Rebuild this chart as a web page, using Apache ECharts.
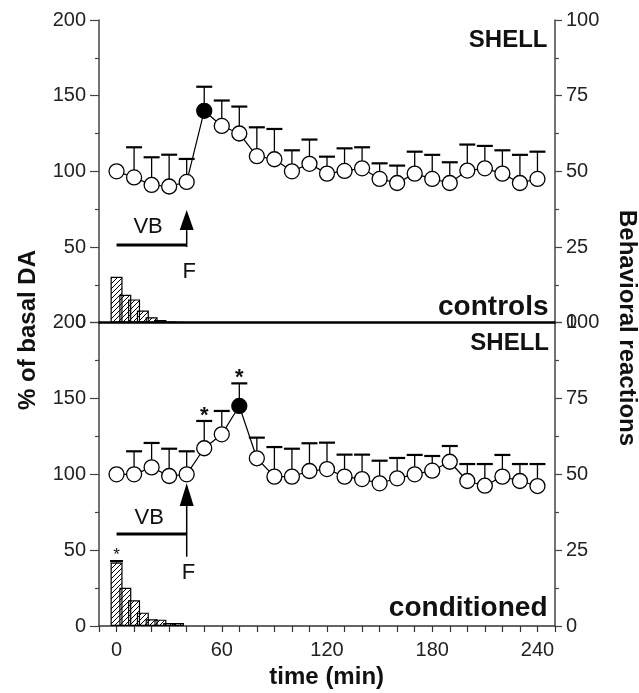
<!DOCTYPE html>
<html>
<head>
<meta charset="utf-8">
<script src="https://cdn.jsdelivr.net/npm/echarts@6/dist/echarts.min.js"></script>
<style>
html, body { margin: 0; padding: 0; background: #fff; }
#main { width: 639px; height: 693px; }
</style>
</head>
<body>
<div id="main"></div>
<script>
// sampling times (min)
var times = [0, 10, 20, 30, 40, 50, 60, 70, 80, 90, 100, 110, 120, 130, 140, 150, 160, 170, 180, 190, 200, 210, 220, 230, 240];

// % of basal DA, controls (mean and top of SEM bar)
var daControls = [100, 96, 91, 90, 93, 140, 130, 125, 110, 108, 100, 105, 98.5, 100.3, 102, 95, 92.3, 98.5, 95, 92.3, 100.5, 102, 98.5, 92.3, 95];
var daControlsTop = [null, 115.9, 109.3, 111, 108.2, 155.9, 146.8, 142.8, 129.1, 128, 113.9, 121, 109.7, 115.2, 115.9, 105.3, 103.8, 113, 110.9, 106, 117.7, 116.8, 113.9, 110.9, 113];

// % of basal DA, conditioned
var daCond = [100, 100, 104.6, 98.9, 100, 117.2, 126.4, 145.1, 110.6, 98.5, 98.5, 102.2, 103.5, 98.5, 96.9, 94.1, 97.4, 100, 102.4, 108.3, 95.6, 92.5, 98.5, 95.6, 92.3];
var daCondTop = [null, 115.2, 120.7, 116.9, 115.2, 135.2, 141.8, 160, 124.2, 118, 116.9, 120.5, 120.9, 113, 113, 109, 110.8, 112.8, 112.1, 118.7, 106.8, 106.8, 112.8, 106.8, 106.8];

// filled (significant peak) points
var peakControls = 50;
var peakCond = 70;

// behavioural reactions (right axis)
var behavTimes = [0, 5, 10, 15, 20, 25, 30, 35];
var behavControls = [15.2, 9.2, 7.7, 4.0, 1.8, 0.9, 0.4, 0.3];
var behavCond = [20.9, 12.6, 8.5, 4.4, 2.2, 2.1, 1.0, 1.0];
var behavCondTop = [21.4, null, null, null, null, null, null, null];

var xTickLabels = [0, 60, 120, 180, 240];

// annotation anchors [time, value, text]
var notesControls = [[18, 63.6, 'VB'], [41.5, 33.5, 'F']];
var notesCond = [[18.6, 71.2, 'VB'], [41, 35.1, 'F']];
var starsCond = [[50, 138.5, '*'], [70, 163.3, '*']];
var starsBehav = [[0, 23.2, '*']];
// vehicle bar [from, to, level] and F arrow [time, bottom, headBase, tip]
var vbControls = [0, 40, 51.3];
var vbCond = [0, 40, 60.7];
var arrowControls = [[40, 50, 61.2, 74.5]];
var arrowCond = [[40, 45.7, 79.1, 94.1]];

var FONT = '"Liberation Sans", Arial, Helvetica, sans-serif';

function makeHatch() {
  var c = document.createElement('canvas');
  c.width = 5; c.height = 5;
  var g = c.getContext('2d');
  g.strokeStyle = '#000';
  g.lineWidth = 1;
  g.beginPath();
  g.moveTo(0, 5); g.lineTo(5, 0);
  g.moveTo(-1, 1); g.lineTo(1, -1);
  g.moveTo(4, 6); g.lineTo(6, 4);
  g.stroke();
  return c;
}
var hatch = makeHatch();

function pairs(xs, ys) {
  var out = [];
  for (var i = 0; i < xs.length; i++) out.push([xs[i], ys[i]]);
  return out;
}
function errPairs(xs, ys, tops) {
  var out = [];
  for (var i = 0; i < xs.length; i++) if (tops[i] != null) out.push([xs[i], ys[i], tops[i]]);
  return out;
}
function lineData(xs, ys, peak) {
  return xs.map(function (t, i) {
    var d = { value: [t, ys[i]] };
    if (t === peak) d.itemStyle = { color: '#000' };
    return d;
  });
}
function xy(list) {
  return list.map(function (n) { return [n[0], n[1]]; });
}

function errorRender(cap) {
  return function (params, api) {
    var p0 = api.coord([api.value(0), api.value(1)]);
    var p1 = api.coord([api.value(0), api.value(2)]);
    return {
      type: 'group',
      children: [
        { type: 'line', shape: { x1: p0[0], y1: p0[1], x2: p1[0], y2: p1[1] }, style: { stroke: '#000', lineWidth: 1.3 } },
        { type: 'line', shape: { x1: p1[0] - cap, y1: p1[1], x2: p1[0] + cap, y2: p1[1] }, style: { stroke: '#000', lineWidth: 2.2 } }
      ]
    };
  };
}
function textRender(font, list) {
  return function (params, api) {
    var p = api.coord([api.value(0), api.value(1)]);
    return {
      type: 'text',
      x: p[0], y: p[1],
      style: { text: list[params.dataIndex][2], font: font, fill: '#111', textAlign: 'center', textVerticalAlign: 'middle' }
    };
  };
}
function arrowRender(params, api) {
  var x = api.value(0);
  var pb = api.coord([x, api.value(1)]);
  var ph = api.coord([x, api.value(2)]);
  var pt = api.coord([x, api.value(3)]);
  return {
    type: 'group',
    children: [
      { type: 'line', shape: { x1: pb[0], y1: pb[1], x2: ph[0], y2: ph[1] }, style: { stroke: '#000', lineWidth: 1.5 } },
      { type: 'polygon', shape: { points: [[pt[0], pt[1]], [ph[0] - 7, ph[1]], [ph[0] + 7, ph[1]]] }, style: { fill: '#000' } }
    ]
  };
}

function xAxisFor(grid, bottom) {
  return {
    type: 'value', gridIndex: grid, min: -10, max: 250, interval: 10,
    axisLine: { show: true, onZero: false, lineStyle: bottom ? { color: '#333', width: 1.5 } : { color: '#000', width: 2.5 } },
    axisTick: { show: bottom, length: 6, lineStyle: { color: '#333', width: 1.2 } },
    axisLabel: {
      show: bottom, margin: 14, color: '#222', fontSize: 20, fontFamily: FONT,
      formatter: function (v) { return xTickLabels.indexOf(v) >= 0 ? String(v) : ''; }
    },
    splitLine: { show: false }
  };
}
function yAxisFor(grid, right) {
  return {
    type: 'value', gridIndex: grid, position: right ? 'right' : 'left',
    min: 0, max: right ? 100 : 200, interval: right ? 25 : 50,
    axisLine: { show: true, onZero: false, lineStyle: { color: '#444', width: 1.5 } },
    axisTick: { show: true, length: right ? 7 : 9, lineStyle: { color: '#444', width: 1.2 } },
    minorTick: { show: true, splitNumber: 2, length: 4, lineStyle: { color: '#444', width: 1.2 } },
    axisLabel: { margin: right ? 11 : 13, color: '#222', fontSize: 20, fontFamily: FONT },
    splitLine: { show: false },
    minorSplitLine: { show: false }
  };
}

var myChart = echarts.init(document.getElementById('main'));
var option = {
  animation: false,
  backgroundColor: '#fff',
  grid: [
    { left: 99, right: 84, top: 20, height: 302.7, outerBoundsMode: 'none' },
    { left: 99, right: 84, top: 322.7, bottom: 67, outerBoundsMode: 'none' }
  ],
  xAxis: [xAxisFor(0, false), xAxisFor(1, true)],
  yAxis: [yAxisFor(0, false), yAxisFor(0, true), yAxisFor(1, false), yAxisFor(1, true)],
  graphic: [
    { type: 'text', x: 547.5, y: 40, style: { text: 'SHELL', font: 'bold 24px ' + FONT, fill: '#111', textAlign: 'right', textVerticalAlign: 'middle' } },
    { type: 'text', x: 548.5, y: 307.6, style: { text: 'controls', font: 'bold 28px ' + FONT, fill: '#111', textAlign: 'right', textVerticalAlign: 'middle' } },
    { type: 'text', x: 549, y: 343.3, style: { text: 'SHELL', font: 'bold 24px ' + FONT, fill: '#111', textAlign: 'right', textVerticalAlign: 'middle' } },
    { type: 'text', x: 547.5, y: 608.3, style: { text: 'conditioned', font: 'bold 28px ' + FONT, fill: '#111', textAlign: 'right', textVerticalAlign: 'middle' } },
    { type: 'text', x: 326.7, y: 677.5, style: { text: 'time (min)', font: 'bold 24px ' + FONT, fill: '#111', textAlign: 'center', textVerticalAlign: 'middle' } },
    { type: 'text', x: 28, y: 330, rotation: Math.PI / 2, style: { text: '% of basal DA', font: 'bold 24px ' + FONT, fill: '#111', textAlign: 'center', textVerticalAlign: 'middle' } },
    { type: 'text', x: 627, y: 328, rotation: -Math.PI / 2, style: { text: 'Behavioral reactions', font: 'bold 24px ' + FONT, fill: '#111', textAlign: 'center', textVerticalAlign: 'middle' } }
  ],
  series: [
    // controls panel
    { type: 'bar', xAxisIndex: 0, yAxisIndex: 1, barWidth: 12, data: pairs(behavTimes, behavControls),
      itemStyle: { color: { image: hatch, repeat: 'repeat' }, borderColor: '#000', borderWidth: 1.2 } },
    { type: 'custom', xAxisIndex: 0, yAxisIndex: 0, data: errPairs(times, daControls, daControlsTop), renderItem: errorRender(8), z: 3 },
    { type: 'line', xAxisIndex: 0, yAxisIndex: 0, data: lineData(times, daControls, peakControls), showAllSymbol: true,
      symbol: 'circle', symbolSize: 15, itemStyle: { color: '#fff', borderColor: '#000', borderWidth: 1.3 },
      lineStyle: { color: '#000', width: 1.2 }, z: 5 },
    { type: 'line', xAxisIndex: 0, yAxisIndex: 0, data: [[vbControls[0], vbControls[2]], [vbControls[1], vbControls[2]]],
      symbol: 'none', lineStyle: { color: '#000', width: 3 } },
    { type: 'custom', xAxisIndex: 0, yAxisIndex: 0, data: arrowControls, renderItem: arrowRender },
    { type: 'custom', xAxisIndex: 0, yAxisIndex: 0, data: xy(notesControls), renderItem: textRender('22px ' + FONT, notesControls) },

    // conditioned panel
    { type: 'bar', xAxisIndex: 1, yAxisIndex: 3, barWidth: 12, data: pairs(behavTimes, behavCond),
      itemStyle: { color: { image: hatch, repeat: 'repeat' }, borderColor: '#000', borderWidth: 1.2 } },
    { type: 'custom', xAxisIndex: 1, yAxisIndex: 3, data: errPairs(behavTimes, behavCond, behavCondTop), renderItem: errorRender(6.5), z: 3 },
    { type: 'custom', xAxisIndex: 1, yAxisIndex: 2, data: errPairs(times, daCond, daCondTop), renderItem: errorRender(8), z: 3 },
    { type: 'line', xAxisIndex: 1, yAxisIndex: 2, data: lineData(times, daCond, peakCond), showAllSymbol: true,
      symbol: 'circle', symbolSize: 15, itemStyle: { color: '#fff', borderColor: '#000', borderWidth: 1.3 },
      lineStyle: { color: '#000', width: 1.2 }, z: 5 },
    { type: 'line', xAxisIndex: 1, yAxisIndex: 2, data: [[vbCond[0], vbCond[2]], [vbCond[1], vbCond[2]]],
      symbol: 'none', lineStyle: { color: '#000', width: 3 } },
    { type: 'custom', xAxisIndex: 1, yAxisIndex: 2, data: arrowCond, renderItem: arrowRender },
    { type: 'custom', xAxisIndex: 1, yAxisIndex: 2, data: xy(notesCond), renderItem: textRender('22px ' + FONT, notesCond) },
    { type: 'custom', xAxisIndex: 1, yAxisIndex: 2, data: xy(starsCond), renderItem: textRender('bold 22px ' + FONT, starsCond) },
    { type: 'custom', xAxisIndex: 1, yAxisIndex: 3, data: xy(starsBehav), renderItem: textRender('17px ' + FONT, starsBehav) }
  ]
};
myChart.setOption(option);
</script>
</body>
</html>
